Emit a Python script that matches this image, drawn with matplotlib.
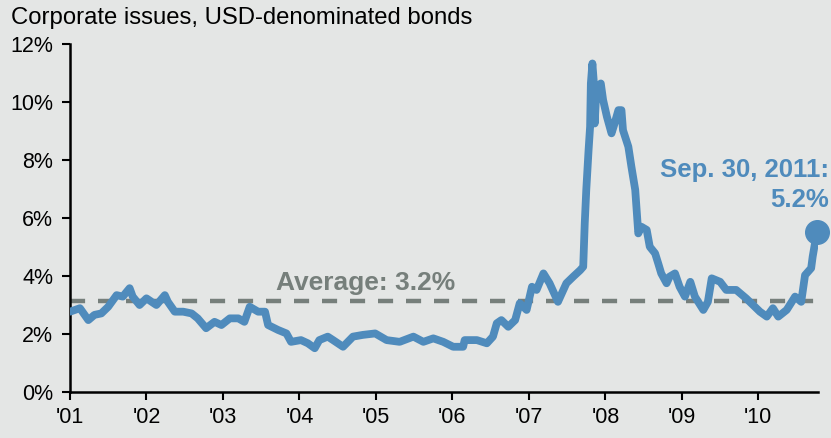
import matplotlib
matplotlib.use('Agg')
import matplotlib.pyplot as plt

plt.rcParams['font.family'] = ['Liberation Sans', 'DejaVu Sans']

# Datos (año decimal, % rendimiento)
years = [2001.00, 2001.13, 2001.24, 2001.32, 2001.41, 2001.50, 2001.61, 2001.69, 2001.78, 2001.82,
         2001.91, 2002.00, 2002.13, 2002.24, 2002.28, 2002.37, 2002.48, 2002.59, 2002.67, 2002.78,
         2002.89, 2002.98, 2003.09, 2003.20, 2003.28, 2003.35, 2003.46, 2003.55, 2003.59, 2003.72,
         2003.83, 2003.89, 2004.02, 2004.11, 2004.20, 2004.26, 2004.37, 2004.44, 2004.57, 2004.70,
         2004.83, 2004.99, 2005.14, 2005.31, 2005.49, 2005.62, 2005.75, 2005.88, 2006.01, 2006.14,
         2006.16, 2006.32, 2006.45, 2006.53, 2006.58, 2006.64, 2006.73, 2006.82, 2006.88, 2006.97,
         2007.04, 2007.10, 2007.19, 2007.27, 2007.38, 2007.49, 2007.58, 2007.67, 2007.71, 2007.73,
         2007.75, 2007.78, 2007.80, 2007.81, 2007.83, 2007.85, 2007.86, 2007.88, 2007.94, 2007.97,
         2008.02, 2008.08, 2008.12, 2008.17, 2008.21, 2008.23, 2008.30, 2008.34, 2008.39, 2008.43,
         2008.47, 2008.54, 2008.58, 2008.65, 2008.69, 2008.73, 2008.80, 2008.84, 2008.91, 2008.97,
         2009.04, 2009.11, 2009.17, 2009.28, 2009.34, 2009.39, 2009.50, 2009.58, 2009.71, 2009.84,
         2009.93, 2010.02, 2010.11, 2010.19, 2010.26, 2010.37, 2010.48, 2010.56, 2010.61, 2010.69,
         2010.71, 2010.74, 2010.76]
yields = [2.77, 2.89, 2.48, 2.66, 2.71, 2.94, 3.34, 3.29, 3.58, 3.29,
          3.00, 3.23, 3.00, 3.34, 3.11, 2.77, 2.77, 2.71, 2.54, 2.20,
          2.42, 2.31, 2.54, 2.54, 2.42, 2.94, 2.77, 2.77, 2.31, 2.14,
          2.02, 1.73, 1.79, 1.68, 1.51, 1.79, 1.91, 1.79, 1.56, 1.91,
          1.97, 2.02, 1.79, 1.73, 1.91, 1.73, 1.85, 1.73, 1.56, 1.56,
          1.79, 1.79, 1.68, 1.91, 2.37, 2.48, 2.25, 2.48, 3.06, 2.83,
          3.63, 3.52, 4.09, 3.75, 3.11, 3.75, 3.98, 4.20, 4.32, 5.82,
          6.97, 8.34, 9.15, 10.64, 11.33, 10.64, 9.26, 10.30, 10.64, 10.07,
          9.49, 8.92, 9.26, 9.72, 9.72, 9.03, 8.46, 7.77, 6.97, 5.47,
          5.70, 5.59, 5.01, 4.78, 4.44, 4.09, 3.75, 3.98, 4.09, 3.63,
          3.29, 3.80, 3.29, 2.83, 3.11, 3.92, 3.80, 3.52, 3.52, 3.23,
          3.00, 2.77, 2.60, 2.89, 2.60, 2.83, 3.29, 3.11, 4.03, 4.27,
          4.67, 5.13, 5.53]
average = 3.15
tick_years = [2001, 2002, 2003, 2004, 2005, 2006, 2007, 2008, 2009, 2010]
tick_labels = ["'01", "'02", "'03", "'04", "'05", "'06", "'07", "'08", "'09", "'10"]

BG = '#E4E6E5'
BLUE = '#4F8BBC'
GRAY = '#767F7B'

fig = plt.figure(figsize=(8.31, 4.38), dpi=100, facecolor=BG)
ax = fig.add_axes([0.0842, 0.105, 0.9002, 0.7945])
ax.set_facecolor(BG)

ax.plot([2001, years[-1]], [average, average], color=GRAY, lw=3.2,
        linestyle=(0, (3.4, 2.9)), zorder=2)
ax.plot(years, yields, color=BLUE, lw=5.6, solid_joinstyle='round',
        solid_capstyle='round', zorder=3)
ax.plot(years[-1], yields[-1], 'o', color=BLUE, markersize=17, zorder=4,
        clip_on=False)

ax.set_xlim(2001.0, 2010.78)
ax.set_ylim(0, 12)
ax.set_yticks(range(0, 13, 2))
ax.set_yticklabels([f'{v}%' for v in range(0, 13, 2)])
ax.set_xticks(tick_years)
ax.set_xticklabels(tick_labels)
ax.tick_params(axis='both', direction='out', length=6, width=1.5, labelsize=15.5,
               colors='black')
ax.tick_params(axis='y', pad=6)
ax.tick_params(axis='x', pad=5)
for side in ['top', 'right']:
    ax.spines[side].set_visible(False)
for side in ['left', 'bottom']:
    ax.spines[side].set_linewidth(1.8)

ax.text(2004.86, 3.75, 'Average: 3.2%', color=GRAY, fontsize=19,
        fontweight='bold', ha='center', va='center')
fig.text(0.998, 0.612, 'Sep. 30, 2011:', color=BLUE, fontsize=18.5,
         fontweight='bold', ha='right', va='center')
fig.text(0.998, 0.543, '5.2%', color=BLUE, fontsize=18.5,
         fontweight='bold', ha='right', va='center')

fig.text(0.013, 0.958, 'Corporate issues, USD-denominated bonds', fontsize=17.2,
         ha='left', va='center')

fig.savefig('out.png', dpi=100, facecolor=BG)
